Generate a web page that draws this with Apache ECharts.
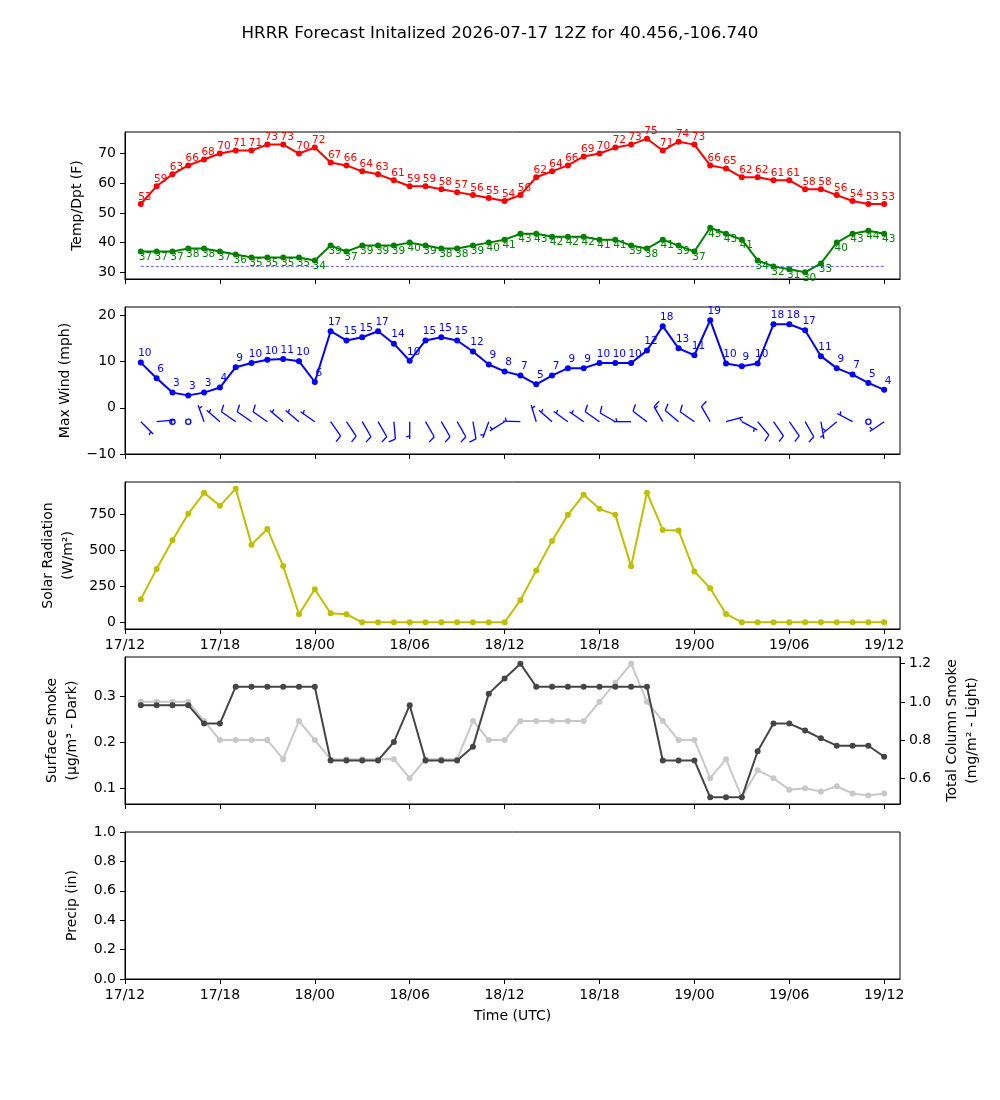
<!DOCTYPE html>
<html>
<head>
<meta charset="utf-8">
<script src="https://cdn.jsdelivr.net/npm/echarts@6/dist/echarts.min.js"></script>
<style>
html,body{margin:0;padding:0;background:#fff;}
#chart{width:1000px;height:1100px;}
</style>
</head>
<body>
<div id="chart"></div>
<script>
// forecast hours after 17/12Z
var hours = [1,2,3,4,5,6,7,8,9,10,11,12,13,14,15,16,17,18,19,20,21,22,23,24,
             25,26,27,28,29,30,31,32,33,34,35,36,37,38,39,40,41,42,43,44,45,46,47,48];
var xTickHours = [0,6,12,18,24,30,36,42,48];
var xTickLabels = ['17/12','17/18','18/00','18/06','18/12','18/18','19/00','19/06','19/12'];

var temp = [53,59,63,66,68,70,71,71,73,73,70,72,67,66,64,63,61,59,59,58,57,56,55,54,
            56,62,64,66,69,70,72,73,75,71,74,73,66,65,62,62,61,61,58,58,56,54,53,53];
var dewpoint = [37,37,37,38,38,37,36,35,35,35,35,34,39,37,39,39,39,40,39,38,38,39,40,41,
                43,43,42,42,42,41,41,39,38,41,39,37,45,43,41,34,32,31,30,33,40,43,44,43];
var freezing = 32;

var maxWind = [9.8,6.4,3.3,2.7,3.3,4.4,8.8,9.7,10.4,10.6,10.1,5.6,16.6,14.6,15.3,16.6,13.9,10.2,14.6,15.3,14.6,12.2,9.4,7.9,
               7.0,5.1,7.0,8.6,8.6,9.7,9.7,9.7,12.4,17.7,12.9,11.4,19.0,9.6,9.0,9.6,18.1,18.1,16.8,11.2,8.6,7.2,5.4,3.9];
// barbs: direction wind comes from (deg) and speed
var windDir = [135,85,0,0,340,311,305,305,305,310,310,305,145,146,150,150,175,180,150,150,150,170,200,238,
               272,343,311,306,305,305,300,270,307,330,310,305,330,75,118,140,145,145,150,170,230,298,0,236];
var barbSpeed = [5,5,0,0,5,5,10,10,10,5,5,5,10,10,10,10,10,5,10,10,10,10,5,5,
                 5,5,5,5,5,10,10,5,10,15,10,10,10,5,5,10,10,10,10,5,5,5,0,5];
var barbLevel = -3;

var solar = [160,370,570,754,900,810,929,540,649,391,56,230,63,56,0,0,0,0,0,0,0,0,0,0,
             154,361,566,747,887,789,747,389,901,642,638,354,237,58,0,0,0,0,0,0,0,0,0,0];

var smokeSfc = [0.28,0.28,0.28,0.28,0.24,0.24,0.32,0.32,0.32,0.32,0.32,0.32,0.16,0.16,0.16,0.16,0.2,0.28,0.16,0.16,0.16,0.19,0.305,0.338,
                0.37,0.32,0.32,0.32,0.32,0.32,0.32,0.32,0.32,0.16,0.16,0.16,0.08,0.08,0.08,0.18,0.24,0.24,0.225,0.208,0.192,0.192,0.192,0.168];
var smokeCol = [1.0,1.0,1.0,1.0,0.9,0.8,0.8,0.8,0.8,0.7,0.9,0.8,0.7,0.7,0.7,0.7,0.7,0.6,0.7,0.7,0.7,0.9,0.8,0.8,
                0.9,0.9,0.9,0.9,0.9,1.0,1.1,1.2,1.0,0.9,0.8,0.8,0.6,0.7,0.5,0.642,0.6,0.54,0.547,0.53,0.558,0.52,0.51,0.52];

var FONT = 'DejaVu Sans';
var tops = [132, 307, 482, 657, 832];

function pairs(vals){
	return hours.map(function(h, i){ return [h, vals[i]]; });
}

function xAxisFor(i, showLabels, name){
	return {
		type:'value', gridIndex:i, min:0, max:49,
		axisLine:{show:true, onZero:false, lineStyle:{color:'#000', width:1}},
		axisTick:{show:true, inside:false, length:5, customValues:xTickHours, lineStyle:{color:'#000'}},
		axisLabel:{show:showLabels, customValues:xTickHours, margin:9, color:'#000', fontFamily:FONT, fontSize:14,
			formatter:function(v){ var k = xTickHours.indexOf(v); return k<0 ? '' : xTickLabels[k]; }},
		splitLine:{show:false},
		name:name||'', nameLocation:'middle', nameGap:30,
		nameTextStyle:{color:'#000', fontFamily:FONT, fontSize:14}
	};
}

function yAxisFor(i, min, max, ticks, fmt, name, gap, pos){
	return {
		type:'value', gridIndex:i, min:min, max:max, position:pos||'left',
		axisLine:{show:true, lineStyle:{color:'#000', width:1}},
		axisTick:{show:true, inside:false, length:5, customValues:ticks, lineStyle:{color:'#000'}},
		axisLabel:{customValues:ticks, margin:9, color:'#000', fontFamily:FONT, fontSize:14, formatter:fmt},
		splitLine:{show:false},
		name:name, nameLocation:'middle', nameGap:gap, nameRotate:90,
		nameTextStyle:{color:'#000', fontFamily:FONT, fontSize:14, lineHeight:20}
	};
}

function intFmt(v){ return v<0 ? '\u2212'+Math.abs(v) : String(v); }
function oneDec(v){ return v.toFixed(1); }

function renderBarb(params, api){
	var tip = api.coord([api.value(0), api.value(1)]);
	var dir = api.value(2)*Math.PI/180;
	var mag = 5*Math.round(api.value(3)/5);
	var L = 17.4, sp = 0.125*L, hgt = 0.4*L, wid = 0.25*L;
	var style = {stroke:'#0000ff', lineWidth:1.3, fill:null};
	if(mag < 5){
		return {type:'circle', shape:{cx:tip[0], cy:tip[1], r:0.15*L}, style:style};
	}
	var d = [Math.sin(dir), -Math.cos(dir)], p = [-d[1], d[0]];
	function at(off, ph){ return [tip[0]+d[0]*off+p[0]*ph, tip[1]+d[1]*off+p[1]*ph]; }
	var children = [{type:'polyline', shape:{points:[tip, at(L,0)]}, style:style}];
	var nfull = Math.floor(mag/10), half = (mag%10)>=5, off = L;
	for(var k=0;k<nfull;k++){
		children.push({type:'polyline', shape:{points:[at(off,0), at(off+wid/2,hgt)]}, style:style});
		off -= sp;
	}
	if(half){
		if(off === L) off -= 1.5*sp;
		children.push({type:'polyline', shape:{points:[at(off,0), at(off+wid/4,hgt/2)]}, style:style});
	}
	return {type:'group', children:children};
}

function lineSeries(name, xi, yi, vals, color, extra){
	var s = {
		name:name, type:'line', xAxisIndex:xi, yAxisIndex:yi, data:pairs(vals),
		symbol:'circle', symbolSize:6, showAllSymbol:true,
		itemStyle:{color:color}, lineStyle:{color:color, width:2}, animation:false
	};
	for(var k in extra) s[k] = extra[k];
	return s;
}

function valueLabel(color, off){
	return {show:true, position:'inside', offset:off, color:color, fontFamily:FONT, fontSize:10.5,
		formatter:function(p){ return Math.round(p.value[1]); }};
}

var myChart = echarts.init(document.getElementById('chart'));
var option = {
	animation:false,
	backgroundColor:'#fff',
	title:{text:'HRRR Forecast Initalized 2026-07-17 12Z for 40.456,-106.740', left:'center', top:20,
		textStyle:{fontFamily:FONT, fontSize:16.7, fontWeight:'normal', color:'#000'}},
	grid: tops.map(function(t){
		return {left:125, right:100, top:t, height:147, show:true, borderColor:'#000', borderWidth:1};
	}),
	xAxis:[xAxisFor(0,false), xAxisFor(1,false), xAxisFor(2,true), xAxisFor(3,false), xAxisFor(4,true,'Time (UTC)')],
	yAxis:[
		yAxisFor(0, 27.75, 77.25, [30,40,50,60,70], intFmt, 'Temp/Dpt (F)', 28),
		yAxisFor(1, -10, 21.85, [-10,0,10,20], intFmt, 'Max Wind (mph)', 43),
		yAxisFor(2, -46.5, 975.5, [0,250,500,750], intFmt, 'Solar Radiation\n(W/m\u00b2)', 43),
		yAxisFor(3, 0.0655, 0.3845, [0.1,0.2,0.3], oneDec, 'Surface Smoke\n(\u03bcg/m\u00b3 - Dark)', 39),
		yAxisFor(3, 0.465, 1.235, [0.6,0.8,1.0,1.2], oneDec, 'Total Column Smoke\n(mg/m\u00b2 - Light)', 28, 'right'),
		yAxisFor(4, 0, 1, [0,0.2,0.4,0.6,0.8,1.0], oneDec, 'Precip (in)', 32)
	],
	series:[
		{
			name:'freezing', type:'line', xAxisIndex:0, yAxisIndex:0, symbol:'none', silent:true,
			data:[[hours[0], freezing],[hours[hours.length-1], freezing]],
			lineStyle:{color:'#3a3aff', width:0.8, type:[3,2]}
		},
		lineSeries('temp', 0, 0, temp, '#ff0000', {label:valueLabel('#ff0000',[4,-7]), z:3}),
		lineSeries('dewpoint', 0, 0, dewpoint, '#008000', {label:valueLabel('#008000',[4.5,6]), z:3}),
		lineSeries('maxWind', 1, 1, maxWind, '#0000ff', {label:valueLabel('#0000ff',[4,-9])}),
		{
			name:'barbs', type:'custom', xAxisIndex:1, yAxisIndex:1,
			dimensions:['x','y','dir','spd'], encode:{x:0, y:1},
			data:hours.map(function(h,i){ return [h, barbLevel, windDir[i], barbSpeed[i]]; }),
			renderItem:renderBarb, silent:true
		},
		lineSeries('solar', 2, 2, solar, '#bfbf00'),
		lineSeries('smokeCol', 3, 4, smokeCol, '#c8c8c8', {z:2}),
		lineSeries('smokeSfc', 3, 3, smokeSfc, '#454545', {z:3})
	]
};
myChart.setOption(option, true);
</script>
</body>
</html>
